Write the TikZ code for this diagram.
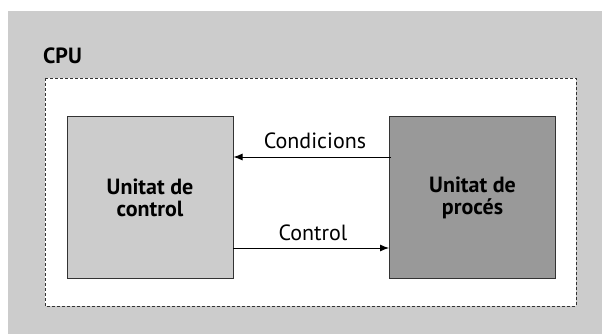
\documentclass[tikz,border=0pt]{standalone}
\usepackage{fontspec}
\setmainfont{PT Sans}
\usetikzlibrary{arrows.meta}
\definecolor{bggray}{HTML}{CCCCCC}
\definecolor{boxlight}{HTML}{CCCCCC}
\definecolor{boxdark}{HTML}{999999}
\tikzset{
  unitbox/.style={draw=black!80, line width=1pt, minimum width=166pt, minimum height=161pt, align=center, font=\fontsize{22}{22}\selectfont\bfseries, inner sep=0pt},
  conn/.style={-{Latex[length=9pt,width=7pt]}, line width=0.9pt},
  lbl/.style={font=\fontsize{22}{22}\selectfont, inner sep=0pt, anchor=base}
}
\begin{document}
\begin{tikzpicture}[x=1pt,y=-1pt]
\useasboundingbox (0,0) rectangle (602,334);
\fill[bggray] (8,11) rectangle (602,334);
\draw[fill=white, dash pattern=on 3pt off 2pt, line width=0.9pt, draw=black!80] (45,78) rectangle (576,306);
\node[anchor=base west, font=\fontsize{22}{22}\selectfont\bfseries, inner sep=0pt] (cpu) at (43,64) {CPU};
\node[unitbox, fill=boxlight] (cu) at (150,197.5) {Unitat de\\control};
\node[unitbox, fill=boxdark] (pu) at (472.5,197.5) {Unitat de\\procés};
\coordinate (c1) at (391,157);
\coordinate (c2) at (233,248);
\draw[conn] (c1) -- (c1 -| cu.east);
\draw[conn] (c2) -- (c2 -| pu.west);
\node[lbl] (lc) at (315,148) {Condicions};
\node[lbl] (lk) at (313,240) {Control};
\end{tikzpicture}
\end{document}
